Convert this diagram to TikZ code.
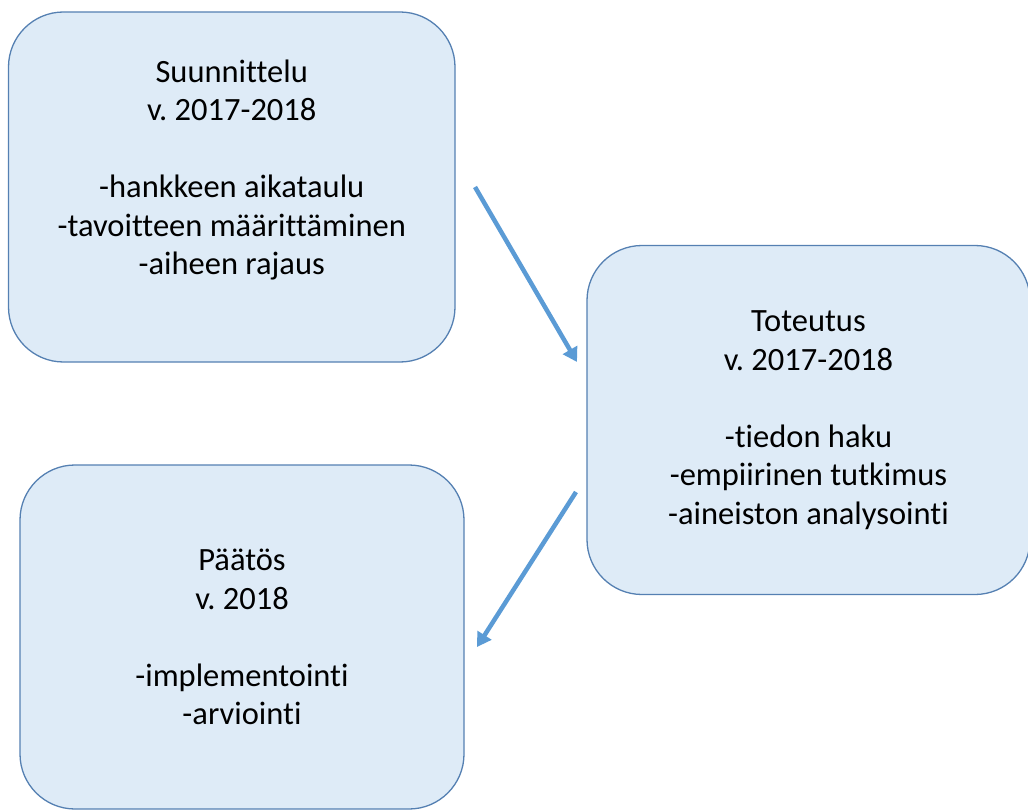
\documentclass[tikz,border=0pt]{standalone}
\usepackage{fontspec}
\setmainfont{Carlito}[Ligatures={NoCommon}]
\usetikzlibrary{arrows.meta}

\definecolor{boxfill}{HTML}{DEEBF7}
\definecolor{boxline}{HTML}{5580B2}
\definecolor{arrowblue}{HTML}{5B9BD5}

\tikzset{
  phase/.style={draw=boxline, fill=boxfill, line width=1.3pt, rounded corners=55pt,
    align=center, inner sep=0pt, font=\fontsize{32.5}{38.5}\selectfont},
  flow/.style={draw=arrowblue, line width=4.5pt, -{Triangle[length=14pt,width=16pt]}}
}

\begin{document}
\frenchspacing
\begin{tikzpicture}[x=1pt, y=-1pt]

    \useasboundingbox (0,0) rectangle (1028,810);
    \clip (0,0) rectangle (1028,810);

    % vaiheet
    \node[phase, minimum width=446.5pt, minimum height=350pt] (suunnittelu) at (231.75,187)
        {Suunnittelu\\v. 2017-2018\\[38.5pt]-hankkeen aikataulu\\-tavoitteen määrittäminen\\-aiheen rajaus\\[-10pt]\strut};
    \node[phase, minimum width=443pt, minimum height=349pt] (toteutus) at (808.5,420)
        {Toteutus\\v. 2017-2018\\[38.5pt]-tiedon haku\\-empiirinen tutkimus\\-aineiston analysointi};
    \node[phase, minimum width=444pt, minimum height=344pt] (paatos) at (242,637)
        {Päätös\\v. 2018\\[38.5pt]-implementointi\\-arviointi};

    % nuolet
    \coordinate (a1) at (475,187);
    \coordinate (a2) at (577,362);
    \coordinate (b1) at (576,492);
    \coordinate (b2) at (477,647);
    \draw[flow] (a1) -- (a2);
    \draw[flow] (b1) -- (b2);

\end{tikzpicture}
\end{document}
